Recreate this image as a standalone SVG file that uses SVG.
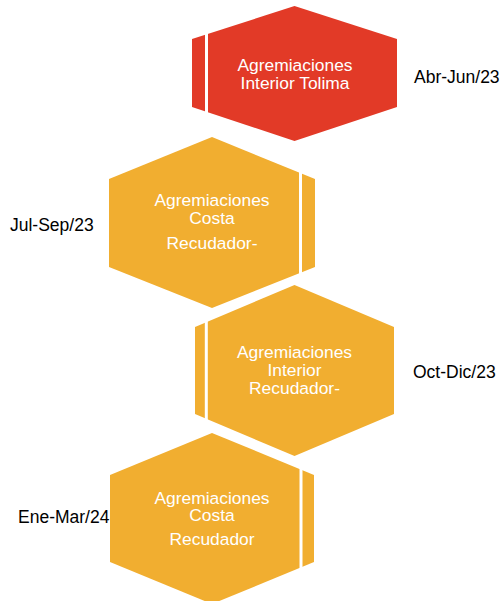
<svg xmlns="http://www.w3.org/2000/svg" width="500" height="601" viewBox="0 0 500 601">
<style>
.red{fill:#E23A27}
.org{fill:#F1AE30}
.cut{stroke:#FFFFFF;stroke-width:3}
.t{font-family:"Liberation Sans",Arial,sans-serif;font-size:17.4px;fill:#FFFFFF;text-anchor:middle}
.lbl{font-family:"Liberation Sans",Arial,sans-serif;font-size:17.5px;fill:#000000}
</style>
<rect width="500" height="601" fill="#FFFFFF"/>
<g id="connectors"></g>
<g id="node1">
<polygon class="red" points="294.5,6 397,39 397,107 294.5,141 192,107 192,39"/>
<line class="cut" x1="206.5" y1="25" x2="206.5" y2="120"/>
<text class="t" x="295" y="71">Agremiaciones</text>
<text class="t" x="295" y="88.5">Interior Tolima</text>
</g>
<g id="label1"><text class="lbl" x="414" y="83">Abr-Jun/23</text></g>
<g id="node2">
<polygon class="org" points="212,137 315,179 315,267 212,308 109,267 109,179"/>
<line class="cut" x1="300.5" y1="165" x2="300.5" y2="282"/>
<text class="t" x="212" y="206">Agremiaciones</text>
<text class="t" x="212" y="223.5">Costa</text>
<text class="t" x="212" y="249">Recudador-</text>
</g>
<g id="label2"><text class="lbl" x="10" y="231">Jul-Sep/23</text></g>
<g id="node3">
<polygon class="org" points="294.5,285 394,327 394,414 294.5,456 195,414 195,327"/>
<line class="cut" x1="206.3" y1="312" x2="206.3" y2="430"/>
<text class="t" x="294.5" y="358">Agremiaciones</text>
<text class="t" x="294.5" y="376">Interior</text>
<text class="t" x="294.5" y="393.5">Recudador-</text>
</g>
<g id="label3"><text class="lbl" x="413" y="378">Oct-Dic/23</text></g>
<g id="node4">
<polygon class="org" points="212,433 314,475 314,562 212,604 110,562 110,475"/>
<line class="cut" x1="301" y1="460" x2="301" y2="580"/>
<text class="t" x="212" y="503.5">Agremiaciones</text>
<text class="t" x="212" y="521">Costa</text>
<text class="t" x="212" y="545">Recudador</text>
</g>
<g id="label4"><text class="lbl" x="18" y="523">Ene-Mar/24</text></g>
</svg>
